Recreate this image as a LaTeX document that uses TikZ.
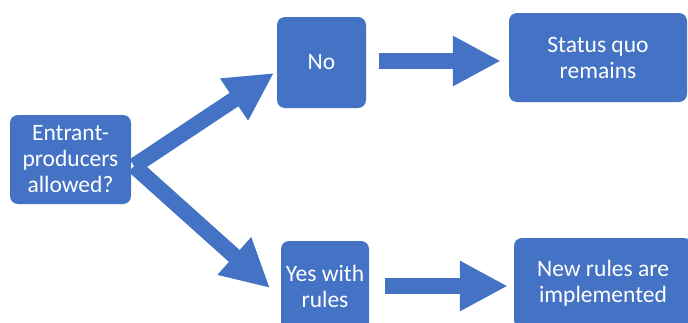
\documentclass[tikz,border=0pt]{standalone}
\usepackage{fontspec}
\setmainfont{Carlito}
\usetikzlibrary{arrows.meta}
\definecolor{obl}{HTML}{4472C4}
\begin{document}
\begin{tikzpicture}[x=1pt,y=-1pt,
  box/.style={fill=obl,rounded corners=8pt,inner sep=0pt,align=center,text=white,
    font=\fontsize{23.5}{26}\selectfont},
  bigarrow/.style={draw=obl,line width=16pt,-{Triangle[length=48pt,width=47pt]}}]
\useasboundingbox (0,0) rectangle (688,322);
\node[box,minimum width=121pt,minimum height=89pt] (entr) at (70.5,159.5) {Entrant-\\producers\\allowed?};
\node[box,minimum width=89pt,minimum height=91pt] (no) at (321.5,62.5) {No};
\node[box,minimum width=178pt,minimum height=89pt] (sq) at (598,57.5) {Status quo\\remains};
\node[box,minimum width=88pt,minimum height=90pt] (yes) at (325,286) {Yes with\\rules};
\node[box,minimum width=178pt,minimum height=90pt] (nr) at (603,283) {New rules are\\implemented};
\coordinate (fork) at (134,166);
\coordinate (noTip) at (274,73);
\coordinate (yesTip) at (270,288);
\draw[bigarrow] (fork) -- (noTip);
\draw[bigarrow] (fork) -- (yesTip);
\draw[bigarrow] ([xshift=13pt,yshift=1.5pt]no.east) -- ([xshift=-8pt,yshift=-3.5pt]sq.west);
\draw[bigarrow] ([xshift=16pt]yes.east) -- ([xshift=-6pt,yshift=-3pt]nr.west);
\end{tikzpicture}
\end{document}
